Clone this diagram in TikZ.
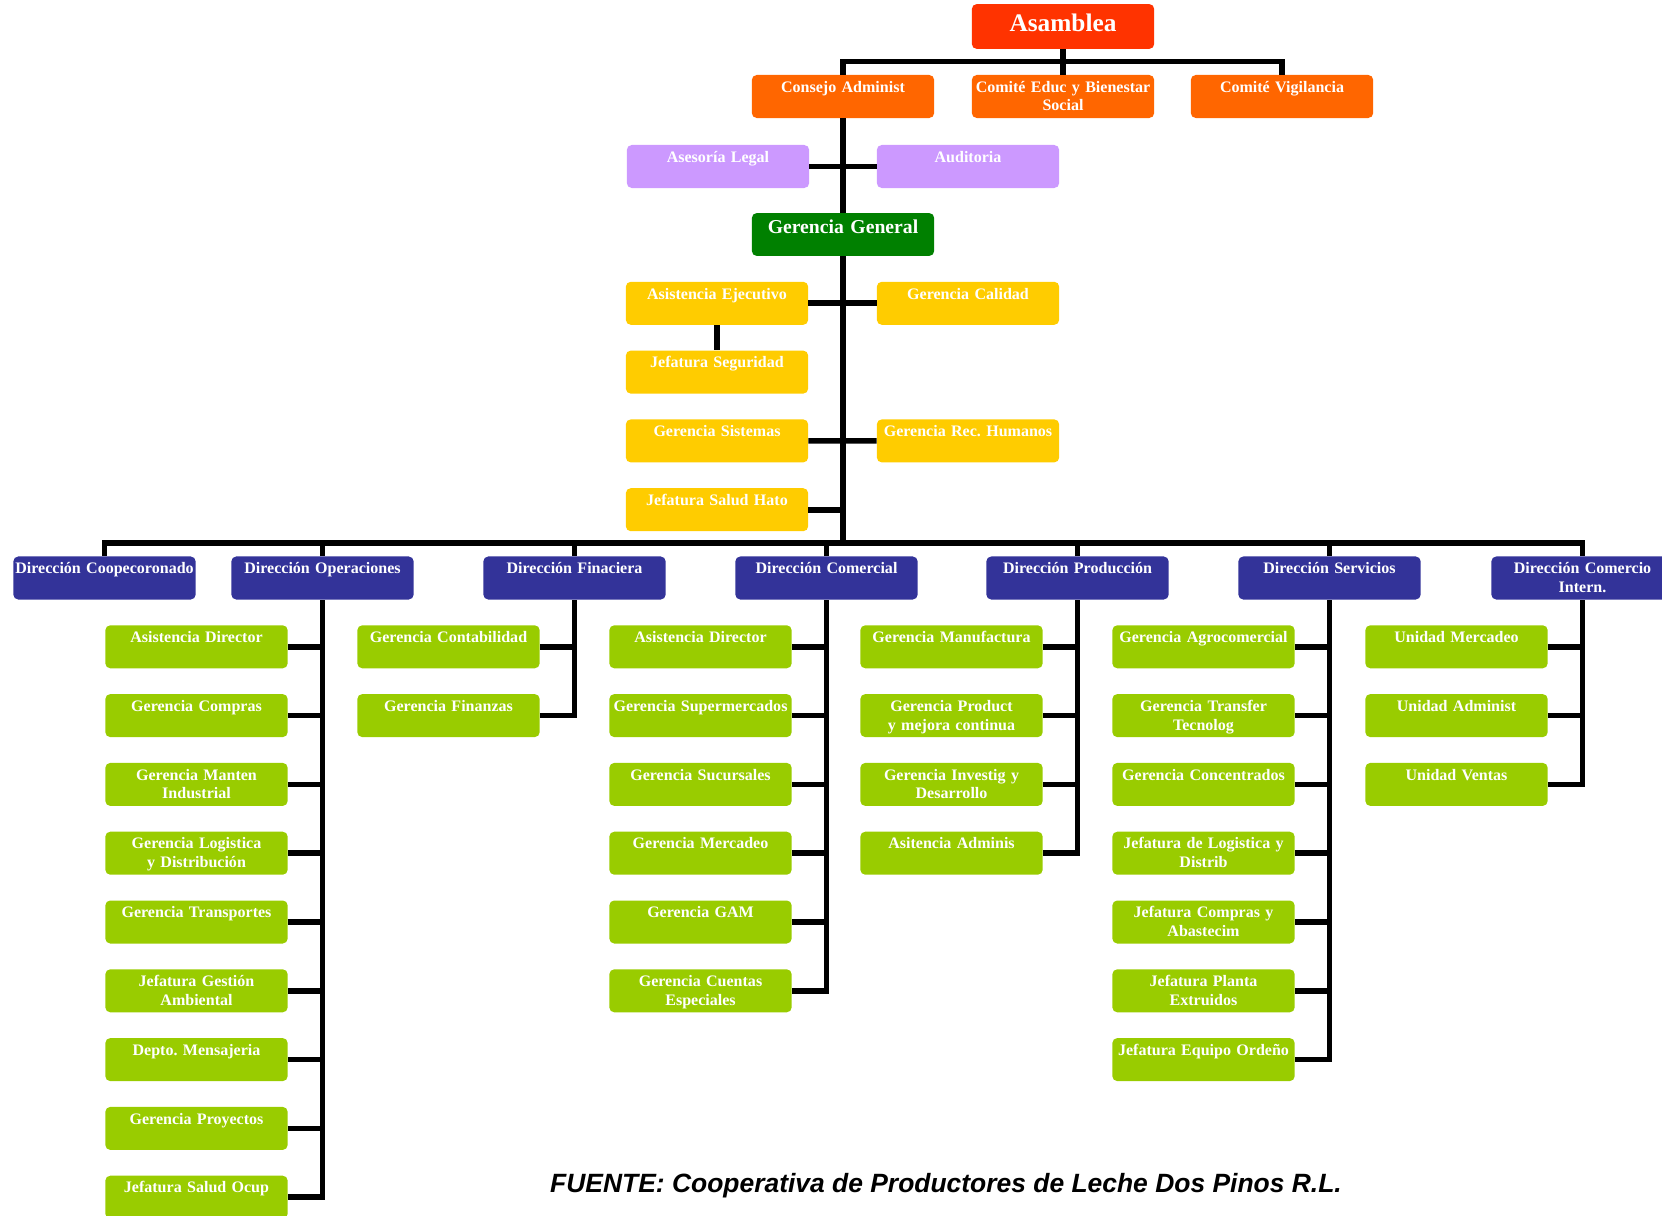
\documentclass[tikz,border=0pt]{standalone}
\usepackage{fontspec}
\setmainfont{Liberation Serif}
\setsansfont{Liberation Sans}
\usepackage{xcolor}
\usepackage{tikz}
\usetikzlibrary{positioning}
\frenchspacing

\definecolor{asambleared}{HTML}{FF3300}
\definecolor{consejoorange}{HTML}{FF6600}
\definecolor{asesorlila}{HTML}{CC99FF}
\definecolor{gerenciagreen}{HTML}{008000}
\definecolor{staffyellow}{HTML}{FFCC00}
\definecolor{dirblue}{HTML}{333399}
\definecolor{unidadgreen}{HTML}{99CC00}

\begin{document}
\begin{tikzpicture}[node distance=1.72cm]
\tikzstyle{block} = [rectangle, rounded corners=3.5pt, text=white, text width=127.7pt, align=center, inner xsep=1pt, inner ysep=1.5pt, font=\bfseries\fontsize{11.4}{13.3}\selectfont, text height=10.8pt, text depth=16.8pt]
\tikzstyle{link} = [line width=4pt]

\useasboundingbox (0,0) rectangle (41.55,-30.375);

\node (asamblea) [block, fill=asambleared, font=\bfseries\fontsize{18}{21}\selectfont, text height=18.1pt, text depth=10.8pt] at (26.575,-0.6625) {Asamblea};
\node (consejo) [block, fill=consejoorange, node distance=1.75cm, below of=asamblea, xshift=-5.5cm] {Consejo Administ};
\node (comite_educ) [block, fill=consejoorange, node distance=1.75cm, below of=asamblea] {Comité Educ y Bienestar\\Social};
\node (comite_vig) [block, fill=consejoorange, node distance=1.75cm, below of=asamblea, xshift=5.475cm] {Comité Vigilancia};
\node (asesoria) [block, fill=asesorlila, node distance=1.75cm, below of=consejo, xshift=-3.125cm] {Asesoría Legal};
\node (auditoria) [block, fill=asesorlila, node distance=1.75cm, below of=consejo, xshift=3.125cm] {Auditoria};
\node (gerencia) [block, fill=gerenciagreen, font=\bfseries\fontsize{14}{16}\selectfont, text height=12.7pt, text depth=14.8pt, node distance=3.45cm, below of=consejo] {Gerencia General};

\node (asist_ejec) [block, fill=staffyellow, below of=gerencia, xshift=-3.15cm] {Asistencia Ejecutivo};
\node (calidad) [block, fill=staffyellow, below of=gerencia, xshift=3.125cm] {Gerencia Calidad};
\node (seguridad) [block, fill=staffyellow, below of=asist_ejec] {Jefatura Seguridad};
\node (sistemas) [block, fill=staffyellow, below of=seguridad] {Gerencia Sistemas};
\node (salud_hato) [block, fill=staffyellow, below of=sistemas] {Jefatura Salud Hato};
\node (rrhh) [block, fill=staffyellow, node distance=3.44cm, below of=calidad] {Gerencia Rec. Humanos};

\node (dir_coop) [block, fill=dirblue] at (2.6125,-14.45) {Dirección Coopecoronado};
\node (dir_oper) [block, fill=dirblue, node distance=5.45cm, right of=dir_coop] {Dirección Operaciones};
\node (dir_fin) [block, fill=dirblue, node distance=6.3cm, right of=dir_oper] {Dirección Finaciera};
\node (dir_com) [block, fill=dirblue, node distance=6.3cm, right of=dir_fin] {Dirección Comercial};
\node (dir_prod) [block, fill=dirblue, node distance=6.275cm, right of=dir_com] {Dirección Producción};
\node (dir_serv) [block, fill=dirblue, node distance=6.3cm, right of=dir_prod] {Dirección Servicios};
\node (dir_int) [block, fill=dirblue, node distance=6.325cm, right of=dir_serv] {Dirección Comercio\\Intern.};

\node (oper_1) [block, fill=unidadgreen, below of=dir_oper, xshift=-3.15cm] {Asistencia Director};
\node (oper_2) [block, fill=unidadgreen, below of=oper_1] {Gerencia Compras};
\node (oper_3) [block, fill=unidadgreen, below of=oper_2] {Gerencia Manten\\Industrial};
\node (oper_4) [block, fill=unidadgreen, below of=oper_3] {Gerencia Logistica\\y Distribución};
\node (oper_5) [block, fill=unidadgreen, below of=oper_4] {Gerencia Transportes};
\node (oper_6) [block, fill=unidadgreen, below of=oper_5] {Jefatura Gestión\\Ambiental};
\node (oper_7) [block, fill=unidadgreen, below of=oper_6] {Depto. Mensajeria};
\node (oper_8) [block, fill=unidadgreen, below of=oper_7] {Gerencia Proyectos};
\node (oper_9) [block, fill=unidadgreen, below of=oper_8] {Jefatura Salud Ocup};

\node (fin_1) [block, fill=unidadgreen, below of=dir_fin, xshift=-3.15cm] {Gerencia Contabilidad};
\node (fin_2) [block, fill=unidadgreen, below of=fin_1] {Gerencia Finanzas};

\node (com_1) [block, fill=unidadgreen, below of=dir_com, xshift=-3.15cm] {Asistencia Director};
\node (com_2) [block, fill=unidadgreen, below of=com_1] {Gerencia Supermercados};
\node (com_3) [block, fill=unidadgreen, below of=com_2] {Gerencia Sucursales};
\node (com_4) [block, fill=unidadgreen, below of=com_3] {Gerencia Mercadeo};
\node (com_5) [block, fill=unidadgreen, below of=com_4] {Gerencia GAM};
\node (com_6) [block, fill=unidadgreen, below of=com_5] {Gerencia Cuentas\\Especiales};

\node (prod_1) [block, fill=unidadgreen, below of=dir_prod, xshift=-3.15cm] {Gerencia Manufactura};
\node (prod_2) [block, fill=unidadgreen, below of=prod_1] {Gerencia Product\\y mejora continua};
\node (prod_3) [block, fill=unidadgreen, below of=prod_2] {Gerencia Investig y\\Desarrollo};
\node (prod_4) [block, fill=unidadgreen, below of=prod_3] {Asitencia Adminis};

\node (serv_1) [block, fill=unidadgreen, below of=dir_serv, xshift=-3.15cm] {Gerencia Agrocomercial};
\node (serv_2) [block, fill=unidadgreen, below of=serv_1] {Gerencia Transfer\\Tecnolog};
\node (serv_3) [block, fill=unidadgreen, below of=serv_2] {Gerencia Concentrados};
\node (serv_4) [block, fill=unidadgreen, below of=serv_3] {Jefatura de Logistica y\\Distrib};
\node (serv_5) [block, fill=unidadgreen, below of=serv_4] {Jefatura Compras y\\Abastecim};
\node (serv_6) [block, fill=unidadgreen, below of=serv_5] {Jefatura Planta\\Extruidos};
\node (serv_7) [block, fill=unidadgreen, below of=serv_6] {Jefatura Equipo Ordeño};

\node (int_1) [block, fill=unidadgreen, below of=dir_int, xshift=-3.15cm] {Unidad Mercadeo};
\node (int_2) [block, fill=unidadgreen, below of=int_1] {Unidad Administ};
\node (int_3) [block, fill=unidadgreen, below of=int_2] {Unidad Ventas};

\node (fuente) [anchor=base, font=\sffamily\bfseries\itshape\fontsize{18.8}{22}\selectfont] at (23.65,-29.8) {FUENTE: Cooperativa de Productores de Leche Dos Pinos R.L.};

\coordinate [node distance=0.875cm, below of=asamblea] (top_bus);
\coordinate [node distance=0.875cm, above of=dir_coop] (bus);

\draw [link] (asamblea) -- (comite_educ);
\draw [link] (consejo) |- (top_bus) -| (comite_vig);
\draw [link] (consejo) -- (gerencia);
\draw [link] (asesoria) -- (auditoria);
\draw [link] (asist_ejec) -- (calidad);
\draw [link] (asist_ejec) -- (seguridad);
\draw [link] (sistemas) -- (rrhh);
\draw [link] (salud_hato) -- (salud_hato -| gerencia);
\draw [link] (gerencia) -- (gerencia |- bus);

\draw [link] (dir_coop) -- (bus) -| (dir_int);
\draw [link] (dir_oper) -- (dir_oper |- bus);
\draw [link] (dir_fin) -- (dir_fin |- bus);
\draw [link] (dir_com) -- (dir_com |- bus);
\draw [link] (dir_prod) -- (dir_prod |- bus);
\draw [link] (dir_serv) -- (dir_serv |- bus);

\draw [link] (oper_1) -| (dir_oper);
\draw [link] (oper_2) -| (dir_oper);
\draw [link] (oper_3) -| (dir_oper);
\draw [link] (oper_4) -| (dir_oper);
\draw [link] (oper_5) -| (dir_oper);
\draw [link] (oper_6) -| (dir_oper);
\draw [link] (oper_7) -| (dir_oper);
\draw [link] (oper_8) -| (dir_oper);
\draw [link] (oper_9) -| (dir_oper);

\draw [link] (fin_1) -| (dir_fin);
\draw [link] (fin_2) -| (dir_fin);

\draw [link] (com_1) -| (dir_com);
\draw [link] (com_2) -| (dir_com);
\draw [link] (com_3) -| (dir_com);
\draw [link] (com_4) -| (dir_com);
\draw [link] (com_5) -| (dir_com);
\draw [link] (com_6) -| (dir_com);

\draw [link] (prod_1) -| (dir_prod);
\draw [link] (prod_2) -| (dir_prod);
\draw [link] (prod_3) -| (dir_prod);
\draw [link] (prod_4) -| (dir_prod);

\draw [link] (serv_1) -| (dir_serv);
\draw [link] (serv_2) -| (dir_serv);
\draw [link] (serv_3) -| (dir_serv);
\draw [link] (serv_4) -| (dir_serv);
\draw [link] (serv_5) -| (dir_serv);
\draw [link] (serv_6) -| (dir_serv);
\draw [link] (serv_7) -| (dir_serv);

\draw [link] (int_1) -| (dir_int);
\draw [link] (int_2) -| (dir_int);
\draw [link] (int_3) -| (dir_int);

\end{tikzpicture}
\end{document}
